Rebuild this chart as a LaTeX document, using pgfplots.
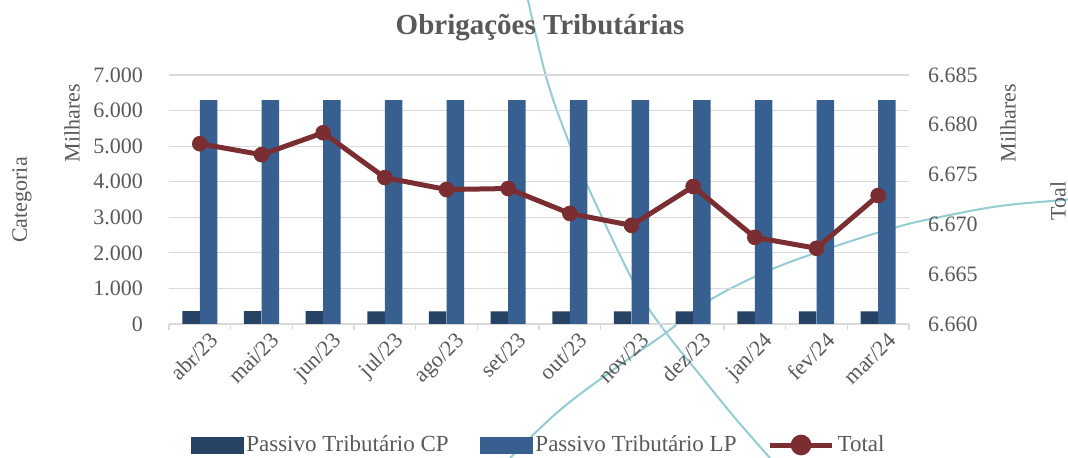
\documentclass[border=0pt]{standalone}
\usepackage{fontspec}
\setmainfont{Liberation Serif}
\usepackage{pgfplots}
\pgfplotsset{compat=1.18}
\definecolor{cp}{HTML}{264264}
\definecolor{lp}{HTML}{376091}
\definecolor{tot}{HTML}{7B2E32}
\definecolor{gridc}{HTML}{D9D9D9}
\definecolor{txt}{HTML}{595959}
\definecolor{deco}{HTML}{93CDD1}
\begin{document}
\begin{tikzpicture}
\useasboundingbox (0pt,0pt) rectangle (534pt,229pt);
% decorative background arcs
\draw[deco, line width=1pt] plot[smooth, tension=0.6] coordinates {(264pt,229pt) (273.5pt,189pt) (285pt,156.5pt) (297pt,129pt) (318pt,85.5pt) (332pt,64pt) (350pt,41.5pt) (367.5pt,20pt) (385pt,0pt)};
\draw[deco, line width=1pt] plot[smooth, tension=0.6] coordinates {(255pt,0pt) (280pt,24pt) (310pt,46.5pt) (331.5pt,61.5pt) (355pt,79pt) (385pt,94pt) (416.5pt,105.5pt) (448.5pt,115.5pt) (470pt,120.5pt) (500pt,126pt) (531.5pt,129pt) (534pt,129.5pt)};
\begin{axis}[
  at={(84.5pt,67pt)}, anchor=south west, scale only axis,
  width=370pt, height=124.5pt,
  xmin=-0.5, xmax=11.5, ymin=0, ymax=7000,
  ytick={0,1000,...,7000},
  xtick={0,...,11},
  xticklabels={abr/23,mai/23,jun/23,jul/23,ago/23,set/23,out/23,nov/23,dez/23,jan/24,fev/24,mar/24},
  minor xtick={-0.5,0.5,...,11.5},
  axis x line*=bottom, axis y line*=left,
  y axis line style={draw=none},
  x axis line style={draw=gridc, line width=0.6pt},
  major tick length=0pt,
  minor tick length=3pt,
  tick align=outside,
  minor x tick style={draw=gridc, line width=0.6pt},
  ymajorgrids, major grid style={draw=gridc, line width=0.6pt},
  /pgf/number format/assume math mode=true,
  /pgf/number format/1000 sep={.},
  ticklabel style={text=txt, font=\fontsize{11}{12}\selectfont},
  yticklabel style={xshift=-9.5pt},
  x tick label style={rotate=45, anchor=north east, xshift=4pt, yshift=-2pt},
]
\addplot[ybar, bar width=8.75pt, bar shift=-4.4pt, fill=cp, draw=none] coordinates {
(0,360) (1,360) (2,360) (3,355) (4,355) (5,355) (6,355) (7,355) (8,355) (9,355) (10,355) (11,355)};
\addplot[ybar, bar width=8.75pt, bar shift=4.4pt, fill=lp, draw=none] coordinates {
(0,6290) (1,6290) (2,6290) (3,6290) (4,6290) (5,6290) (6,6290) (7,6290) (8,6290) (9,6290) (10,6290) (11,6290)};
\end{axis}
\begin{axis}[
  at={(84.5pt,67pt)}, anchor=south west, scale only axis,
  width=370pt, height=124.5pt,
  xmin=-0.5, xmax=11.5, ymin=6660, ymax=6685,
  ytick={6660,6665,...,6685},
  axis x line=none, axis y line*=right,
  y axis line style={draw=none},
  major tick length=0pt,
  /pgf/number format/assume math mode=true,
  /pgf/number format/1000 sep={.},
  ticklabel style={text=txt, font=\fontsize{11}{12}\selectfont},
  yticklabel style={xshift=6pt},
  legend columns=3,
  legend style={at={(0.5,-0.486)}, anchor=center, draw=none, fill=none,
    font=\fontsize{11.5}{12}\selectfont, text=txt,
    /tikz/every even column/.append style={column sep=14pt},
    nodes={inner sep=1.5pt}},
]
\addlegendimage{legend image code/.code={\fill[cp] (0pt,-4pt) rectangle (26pt,4pt);}}
\addlegendentry{Passivo Tributário CP}
\addlegendimage{legend image code/.code={\fill[lp] (0pt,-4pt) rectangle (26pt,4pt);}}
\addlegendentry{Passivo Tributário LP}
\addplot[tot, line width=2.5pt, mark=*, mark size=3.7pt, mark options={line width=0.4pt},
  legend image code/.code={\draw[tot, line width=2.5pt] (0pt,0pt) -- (31pt,0pt); \fill[tot] (15.5pt,0pt) circle (3.9pt);}]
coordinates {
(0,6678.1) (1,6677.0) (2,6679.2) (3,6674.7) (4,6673.5) (5,6673.6) (6,6671.1) (7,6669.9) (8,6673.8) (9,6668.7) (10,6667.6) (11,6672.9)};
\addlegendentry{Total}
\end{axis}
\node[text=txt, font=\fontsize{14.5}{16}\selectfont\bfseries] at (270pt,215pt) {Obrigações Tributárias};
\node[text=txt, font=\fontsize{11}{12}\selectfont, rotate=90] at (11pt,129pt) {Categoria};
\node[text=txt, font=\fontsize{11}{12}\selectfont, rotate=90] at (36pt,167.5pt) {Milhares};
\node[text=txt, font=\fontsize{11}{12}\selectfont, rotate=90] at (504pt,167.5pt) {Milhares};
\node[text=txt, font=\fontsize{11}{12}\selectfont, rotate=90] at (529pt,128.5pt) {Toal};
\end{tikzpicture}
\end{document}
